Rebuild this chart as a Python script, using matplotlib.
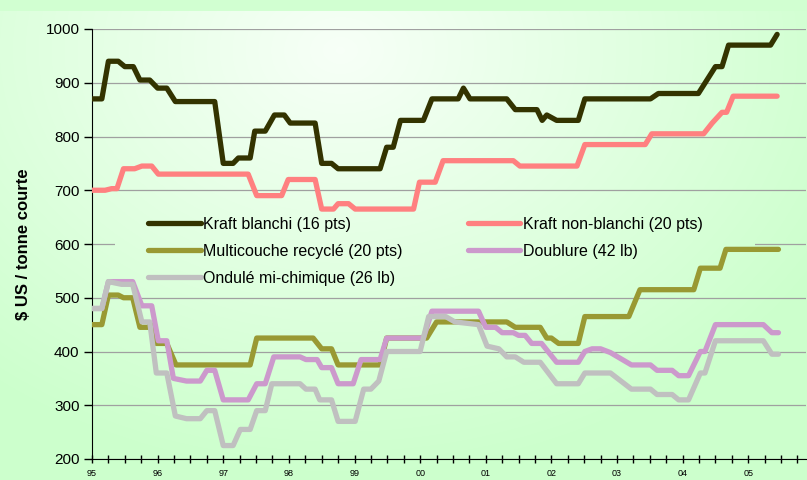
import matplotlib
matplotlib.use("Agg")
import matplotlib.pyplot as plt
import numpy as np

plt.rcParams['font.family'] = ['Liberation Sans', 'DejaVu Sans']

# price series (decimal year, $ US / short ton)
kb_t = [1995.0, 1995.15, 1995.25, 1995.4, 1995.5, 1995.63, 1995.73, 1995.88, 1996.0, 1996.14,
        1996.27, 1996.87, 1997.0, 1997.15, 1997.23, 1997.41, 1997.48, 1997.64, 1997.78, 1997.93,
        1998.02, 1998.4, 1998.5, 1998.65, 1998.75, 1999.39, 1999.49, 1999.59, 1999.7, 2000.05,
        2000.18, 2000.58, 2000.66, 2000.76, 2001.32, 2001.45, 2001.78, 2001.86, 2001.93, 2002.08,
        2002.41, 2002.51, 2003.51, 2003.63, 2004.24, 2004.5, 2004.6, 2004.7, 2005.34, 2005.44]
kb_v = [870, 870, 940, 940, 930, 930, 905, 905, 890, 890,
        865, 865, 750, 750, 760, 760, 810, 810, 840, 840,
        825, 825, 750, 750, 740, 740, 780, 780, 830, 830,
        870, 870, 890, 870, 870, 850, 850, 830, 840, 830,
        830, 870, 870, 880, 880, 930, 930, 970, 970, 990]

knb_t = [1995.0, 1995.2, 1995.3, 1995.38, 1995.48, 1995.65, 1995.76, 1995.91, 1996.01, 1997.38,
         1997.51, 1997.89, 1997.99, 1998.4, 1998.5, 1998.68, 1998.75, 1998.91, 1999.01, 1999.9,
         1999.99, 2000.23, 2000.35, 2001.42, 2001.52, 2002.39, 2002.51, 2003.43, 2003.53, 2004.32,
         2004.45, 2004.6, 2004.67, 2004.77, 2005.44]
knb_v = [700, 700, 703, 703, 740, 740, 745, 745, 730, 730,
         690, 690, 720, 720, 665, 665, 675, 675, 665, 665,
         715, 715, 755, 755, 745, 745, 785, 785, 805, 805,
         825, 845, 845, 875, 875]

mr_t = [1995.0, 1995.15, 1995.25, 1995.4, 1995.48, 1995.62, 1995.73, 1995.85, 1995.9, 1995.98,
        1996.14, 1996.28, 1997.41, 1997.51, 1998.37, 1998.5, 1998.65, 1998.75, 1999.39, 1999.49,
        2000.1, 2000.25, 2001.32, 2001.45, 2001.83, 2001.93, 2002.0, 2002.11, 2002.41, 2002.51,
        2003.18, 2003.35, 2004.17, 2004.27, 2004.57, 2004.66, 2005.46]
mr_v = [450, 450, 505, 505, 500, 500, 445, 445, 450, 415,
        415, 375, 375, 425, 425, 405, 405, 375, 375, 425,
        425, 455, 455, 445, 445, 425, 425, 415, 415, 465,
        465, 515, 515, 555, 555, 590, 590]

db_t = [1995.0, 1995.15, 1995.25, 1995.62, 1995.76, 1995.91, 1996.01, 1996.14, 1996.24, 1996.44,
        1996.65, 1996.75, 1996.87, 1997.0, 1997.38, 1997.51, 1997.64, 1997.77, 1998.17, 1998.26,
        1998.43, 1998.5, 1998.65, 1998.75, 1998.98, 1999.1, 1999.39, 1999.49, 2000.05, 2000.18,
        2000.89, 2001.0, 2001.15, 2001.25, 2001.42, 2001.5, 2001.6, 2001.7, 2001.85, 2002.08,
        2002.41, 2002.51, 2002.62, 2002.75, 2002.9, 2003.22, 2003.51, 2003.61, 2003.84, 2003.94,
        2004.09, 2004.27, 2004.34, 2004.5, 2005.23, 2005.36, 2005.46]
db_v = [480, 480, 530, 530, 485, 485, 420, 420, 350, 345,
        345, 365, 365, 310, 310, 340, 340, 390, 390, 385,
        385, 370, 370, 340, 340, 385, 385, 425, 425, 475,
        475, 445, 445, 435, 435, 430, 430, 415, 415, 380,
        380, 400, 405, 405, 398, 375, 375, 365, 365, 355,
        355, 400, 400, 450, 450, 435, 435]

om_t = [1995.0, 1995.15, 1995.25, 1995.45, 1995.62, 1995.76, 1995.88, 1995.98, 1996.14, 1996.27,
        1996.44, 1996.65, 1996.75, 1996.87, 1997.0, 1997.15, 1997.26, 1997.41, 1997.51, 1997.64,
        1997.74, 1998.17, 1998.26, 1998.4, 1998.47, 1998.65, 1998.75, 1999.01, 1999.14, 1999.25,
        1999.37, 1999.49, 2000.0, 2000.13, 2000.39, 2000.53, 2000.89, 2001.02, 2001.2, 2001.32,
        2001.45, 2001.58, 2001.83, 2002.08, 2002.41, 2002.51, 2002.9, 2003.22, 2003.51, 2003.61,
        2003.84, 2003.94, 2004.09, 2004.27, 2004.34, 2004.5, 2005.23, 2005.36, 2005.46]
om_v = [480, 480, 530, 525, 525, 455, 455, 360, 360, 280,
        275, 275, 290, 290, 225, 225, 255, 255, 290, 290,
        340, 340, 330, 330, 310, 310, 270, 270, 330, 330,
        345, 400, 400, 465, 465, 455, 450, 410, 405, 390,
        390, 380, 380, 340, 340, 360, 360, 330, 330, 320,
        320, 310, 310, 360, 360, 420, 420, 395, 395]

labels = ["Kraft blanchi (16 pts)", "Kraft non-blanchi (20 pts)", "Multicouche recyclé (20 pts)",
          "Doublure (42 lb)", "Ondulé mi-chimique (26 lb)"]
colors = ["#333300", "#ff8080", "#999933", "#cc99cc", "#c0c0c0"]
years = [1995, 1996, 1997, 1998, 1999, 2000, 2001, 2002, 2003, 2004, 2005]
year_labels = ["95", "96", "97", "98", "99", "00", "01", "02", "03", "04", "05"]

W, H = 807, 480
fig = plt.figure(figsize=(W / 100, H / 100), dpi=100)

# background: light green band on top, radial white->green gradient below
yy, xx = np.mgrid[0:H, 0:W]
r = np.clip(np.hypot(xx - 340, (yy - 50) * 1.3) / 560.0, 0, 1)
c0 = np.array([0.97, 1.0, 0.97])
c1 = np.array([0.80, 1.0, 0.80])
bg = c0 + (c1 - c0) * r[..., None]
bg[:11] = [0.82, 1.0, 0.82]
bax = fig.add_axes([0, 0, 1, 1], zorder=-10)
bax.imshow(bg, aspect='auto', interpolation='bilinear')
bax.axis('off')

ax = fig.add_axes([92 / W, 21 / H, (806 - 92) / W, 430 / H])
ax.patch.set_alpha(0)

series = [(kb_t, kb_v), (knb_t, knb_v), (mr_t, mr_v), (db_t, db_v), (om_t, om_v)]
handles = []
for (t, v), lab, col in zip(series, labels, colors):
    h, = ax.plot(t, v, color=col, lw=3.8, label=lab, solid_joinstyle='round',
                 solid_capstyle='round', zorder=3)
    handles.append(h)

xlim, ylim = (1995, 2005.88), (200, 1000)
ax.set_xlim(xlim)
ax.set_ylim(ylim)
ax.set_yticks(range(200, 1001, 100))
quarters = np.arange(1995, 2005.8, 0.25)
ax.set_xticks(quarters)
ax.set_xticklabels([year_labels[years.index(int(q))] if q == int(q) else "" for q in quarters],
                   fontsize=6.5)
ax.tick_params(axis='x', direction='inout', length=6, width=1, pad=4)
ax.tick_params(axis='y', direction='out', length=6, width=1, labelsize=11, pad=3)
ax.grid(axis='y', color='#a0a0a0', lw=0.9)
ax.set_axisbelow(True)
for s in ['top', 'right']:
    ax.spines[s].set_visible(False)

fig.text(24 / W, 1 - 244 / H, "$ US / tonne courte", rotation=90, ha='center', va='center',
         fontsize=12, fontweight='bold')

order = [0, 2, 4, 1, 3]
leg = ax.legend([handles[i] for i in order], [labels[i] for i in order], ncol=2,
                loc='upper left', bbox_to_anchor=(148 / W, 1 - 217 / H),
                bbox_transform=fig.transFigure, frameon=False, fontsize=11.5,
                handlelength=3.3, handletextpad=0.15, columnspacing=4.07,
                labelspacing=0.74, borderpad=0, borderaxespad=0)

# legend box hides the gridline behind it: paste the matching piece of background
fig.canvas.draw()
bb = leg.get_window_extent()
px0, px1 = int(bb.x0 - 33), int(bb.x1 + 53)
py0, py1 = int(bb.y0 - 4), int(bb.y1 + 4)
inv = ax.transData.inverted()
x0d, y0d = inv.transform((px0, py0))
x1d, y1d = inv.transform((px1, py1))
ax.imshow(bg[H - py1:H - py0, px0:px1], extent=(x0d, x1d, y0d, y1d), aspect='auto',
          interpolation='bilinear', zorder=1)
ax.set_xlim(xlim)
ax.set_ylim(ylim)

fig.savefig("out.png", dpi=100)
